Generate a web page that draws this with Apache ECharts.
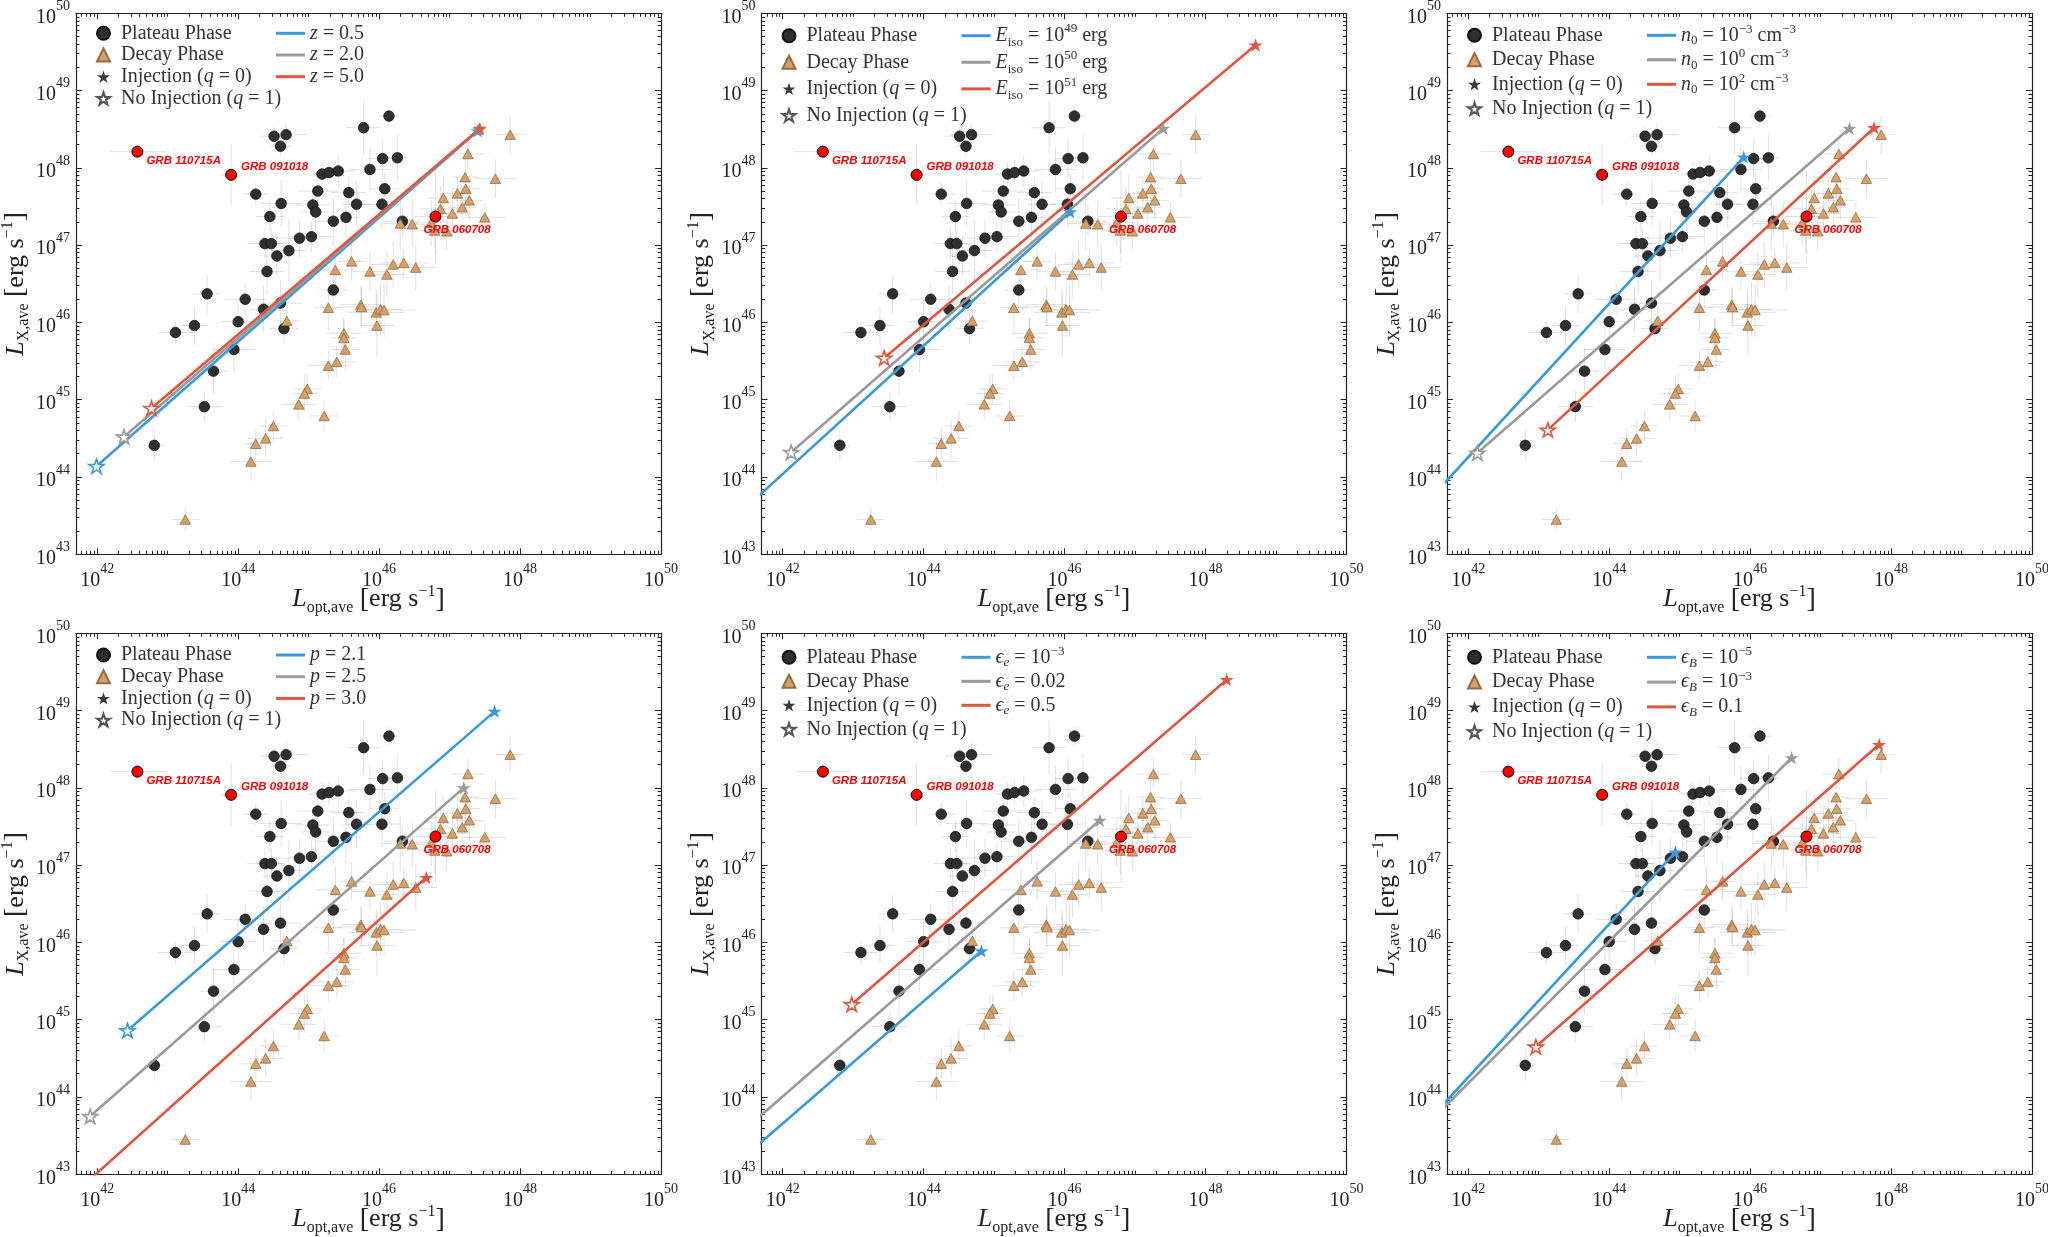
<!DOCTYPE html>
<html>
<head>
<meta charset="utf-8">
<title>L_X,ave vs L_opt,ave</title>
<script src="https://cdn.jsdelivr.net/npm/echarts@6/dist/echarts.min.js"></script>
<style>
  html, body { margin: 0; padding: 0; background: #fff; }
  #chart { width: 2048px; height: 1237px; }
</style>
</head>
<body>
<div id="chart"></div>
<script>
// every value below is log10 of a luminosity in erg/s (errors in dex)
const plateauLogLopt = [46.14, 45.78, 44.51, 44.68, 44.60, 46.05, 46.26, 45.87, 45.19, 45.29, 45.42, 44.25, 45.13, 45.57, 46.08,
  44.61, 45.06, 45.10, 45.68, 46.04, 44.45, 45.35, 45.53, 46.33, 44.38, 44.47, 44.87, 45.04, 44.55, 44.72, 44.41, 45.35,
  43.56, 44.10, 44.36, 44.60, 43.11, 43.38, 44.00, 44.65, 43.94, 43.65, 43.52, 42.81]
const plateauLogLx = [48.67, 48.52, 48.41, 48.43, 48.28, 48.12, 48.13, 47.98, 47.92, 47.94, 47.96, 47.66, 47.70, 47.68, 47.73,
  47.54, 47.52, 47.43, 47.53, 47.53, 47.37, 47.31, 47.36, 47.31, 47.02, 47.02, 47.09, 47.11, 46.86, 46.93, 46.66, 46.42,
  46.37, 46.30, 46.17, 46.25, 45.87, 45.96, 46.01, 45.92, 45.65, 45.37, 44.91, 44.41]
const plateauErrLopt = [0.15, 0.25, 0.2, 0.3, 0.15, 0.2, 0.15, 0.3, 0.2, 0.2, 0.25, 0.2, 0.3, 0.25, 0.2,
  0.3, 0.25, 0.2, 0.2, 0.25, 0.2, 0.25, 0.2, 0.25, 0.25, 0.2, 0.35, 0.3, 0.2, 0.25, 0.25, 0.2,
  0.2, 0.3, 0.2, 0.3, 0.25, 0.2, 0.25, 0.2, 0.3, 0.2, 0.25, 0.15]
const plateauErrLx = [0.12, 0.35, 0.12, 0.15, 0.12, 0.25, 0.3, 0.3, 0.15, 0.15, 0.2, 0.15, 0.25, 0.2, 0.2,
  0.3, 0.2, 0.25, 0.3, 0.3, 0.2, 0.3, 0.35, 0.2, 0.2, 0.2, 0.25, 0.2, 0.25, 0.4, 0.3, 0.25,
  0.25, 0.2, 0.3, 0.3, 0.15, 0.25, 0.3, 0.2, 0.3, 0.3, 0.2, 0.2]

const decayLogLopt = [47.86, 47.26, 47.22, 47.65, 47.23, 46.91, 47.11, 47.28, 46.87, 47.18, 47.04, 47.50, 46.30, 46.47, 46.74,
  46.79, 46.96, 45.61, 45.38, 45.87, 46.20, 46.35, 46.52, 46.11, 45.28, 45.74, 45.75, 45.96, 46.02, 46.07, 45.97, 44.69,
  45.50, 45.50, 45.52, 45.28, 45.40, 44.98, 44.94, 44.86, 45.22, 44.50, 44.39, 44.25, 44.18, 43.25]
const decayLogLx = [48.43, 48.18, 47.88, 47.86, 47.73, 47.61, 47.67, 47.58, 47.47, 47.49, 47.41, 47.36, 47.28, 47.27, 47.29,
  47.19, 47.18, 46.79, 46.68, 46.66, 46.75, 46.77, 46.71, 46.62, 46.19, 46.23, 46.20, 46.13, 46.17, 46.16, 45.96, 46.02,
  45.86, 45.80, 45.65, 45.44, 45.49, 45.14, 45.08, 44.94, 44.79, 44.66, 44.50, 44.43, 44.20, 43.45]
const decayErrLopt = [0.2, 0.25, 0.2, 0.3, 0.2, 0.25, 0.2, 0.2, 0.3, 0.2, 0.25, 0.3, 0.25, 0.2, 0.3,
  0.25, 0.35, 0.2, 0.3, 0.25, 0.3, 0.35, 0.3, 0.25, 0.2, 0.3, 0.35, 0.4, 0.3, 0.45, 0.25, 0.2,
  0.25, 0.2, 0.2, 0.3, 0.25, 0.2, 0.2, 0.25, 0.2, 0.2, 0.25, 0.2, 0.3, 0.2]
const decayErrLx = [0.25, 0.2, 0.3, 0.25, 0.2, 0.3, 0.2, 0.25, 0.3, 0.2, 0.3, 0.2, 0.35, 0.3, 0.3,
  0.3, 0.25, 0.25, 0.3, 0.25, 0.3, 0.2, 0.3, 0.3, 0.3, 0.25, 0.25, 0.3, 0.35, 0.35, 0.4, 0.2,
  0.2, 0.25, 0.25, 0.2, 0.2, 0.2, 0.25, 0.2, 0.2, 0.2, 0.25, 0.2, 0.25, 0.15]

const grbNames = ['GRB 110715A', 'GRB 091018', 'GRB 060708']
const grbLogLopt = [42.57, 43.90, 46.80]
const grbLogLx = [48.21, 47.91, 47.37]
const grbErrLopt = [0.4, 0.15, 0.3]
const grbErrLx = [0.1, 0.4, 0.6]

// model tracks per panel: blue, grey, red. q = 1 end (hollow star) and q = 0 end (filled star)
const trackNames = [
  ['z = 0.5', 'z = 2.0', 'z = 5.0'],
  ['E_iso = 10^49 erg', 'E_iso = 10^50 erg', 'E_iso = 10^51 erg'],
  ['n_0 = 10^-3 cm^-3', 'n_0 = 10^0 cm^-3', 'n_0 = 10^2 cm^-3'],
  ['p = 2.1', 'p = 2.5', 'p = 3.0'],
  ['eps_e = 10^-3', 'eps_e = 0.02', 'eps_e = 0.5'],
  ['eps_B = 10^-5', 'eps_B = 10^-3', 'eps_B = 0.1']
]
const trackLabels = [
  ['{i|z}{t| = 0.5}', '{i|z}{t| = 2.0}', '{i|z}{t| = 5.0}'],
  ['{i|E}{sub|iso}{t| = 10}{sup|49}{t| erg}', '{i|E}{sub|iso}{t| = 10}{sup|50}{t| erg}', '{i|E}{sub|iso}{t| = 10}{sup|51}{t| erg}'],
  ['{i|n}{sub|0}{t| = 10}{sup|−3}{t| cm}{sup|−3}', '{i|n}{sub|0}{t| = 10}{sup|0}{t| cm}{sup|−3}', '{i|n}{sub|0}{t| = 10}{sup|2}{t| cm}{sup|−3}'],
  ['{i|p}{t| = 2.1}', '{i|p}{t| = 2.5}', '{i|p}{t| = 3.0}'],
  ['{i|ϵ}{subi|e}{t| = 10}{sup|−3}', '{i|ϵ}{subi|e}{t| = 0.02}', '{i|ϵ}{subi|e}{t| = 0.5}'],
  ['{i|ϵ}{subi|B}{t| = 10}{sup|−5}', '{i|ϵ}{subi|B}{t| = 10}{sup|−3}', '{i|ϵ}{subi|B}{t| = 0.1}']
]
const noInjLogLopt = [[41.99, 42.38, 42.77], [41.40, 42.12, 43.44], [41.50, 42.13, 43.13],
  [42.43, 41.90, 41.60], [41.50, 41.50, 42.98], [41.50, 41.50, 42.96]]
const noInjLogLx = [[44.14, 44.52, 44.89], [43.54, 44.32, 45.54], [43.76, 44.31, 44.61],
  [44.86, 43.75, 42.69], [43.26, 43.61, 45.20], [43.76, 43.72, 44.65]]
const injLogLopt = [[47.40, 47.42, 47.43], [46.08, 47.40, 48.71], [45.91, 47.41, 47.76],
  [47.64, 47.20, 46.67], [44.82, 46.50, 48.30], [44.94, 46.59, 47.83]]
const injLogLx = [[48.48, 48.50, 48.51], [47.43, 48.51, 49.59], [48.14, 48.51, 48.52],
  [48.99, 48.00, 46.84], [45.89, 47.58, 49.40], [47.17, 48.39, 48.56]]

const xTickExp = [42, 44, 46, 48, 50]
const yTickExp = [43, 44, 45, 46, 47, 48, 49, 50]

const FONT = 'Liberation Serif'
const STAR = 'path://M50,0L61.2,34.5L97.6,34.5L68.2,55.9L79.4,90.5L50,69.1L20.6,90.5L31.8,55.9L2.4,34.5L38.8,34.5Z'
const TRACK_COLORS = ['#3a9ad9', '#9a9a9a', '#dd5840']
const X_MIN = Math.log10(5e41)
const X_MAX = 50
const Y_MIN = 43
const Y_MAX = 50

const GRID_LEFT = [76, 761.5, 1447]
const GRID_TOP = [13.3, 633.3]
const GRID_W = 585
const GRID_H = 541
// legend rows: spacing and first-row centre offset from grid top
const LEGEND_ROW = [21.7, 26.6, 24.5, 21.7, 24, 24.8]
const LEGEND_FIRST = [20, 22.4, 22, 21.7, 24, 24]

function minorTicks (lo, hi, from, majors) {
  const out = []
  for (let n = Math.floor(lo); n < hi; n++) {
    for (let k = from; k <= 9; k++) {
      const v = n + Math.log10(k)
      if (k === 1 && majors.includes(n)) continue
      if (v > lo && v < hi) out.push(v)
    }
  }
  return out
}
const xMinor = minorTicks(X_MIN, X_MAX, 1, xTickExp)
const yMinor = minorTicks(Y_MIN, Y_MAX, 2, yTickExp)

const lineColor = { color: '#222', width: 1.2 }
const tickColor = { color: '#222', width: 1 }
const powRich = {
  b: { fontFamily: FONT, fontSize: 20, lineHeight: 28, verticalAlign: 'bottom', color: '#222' },
  s: { fontFamily: FONT, fontSize: 14, lineHeight: 12, verticalAlign: 'top', color: '#222' }
}
const powFmt = v => '{b|10}{s|' + Math.round(v) + '}'
const nameRich = {
  t: { fontFamily: FONT, fontSize: 26, lineHeight: 32, color: '#222' },
  it: { fontFamily: FONT, fontStyle: 'italic', fontSize: 26, lineHeight: 32, color: '#222' },
  sub: { fontFamily: FONT, fontSize: 16, lineHeight: 16, verticalAlign: 'bottom', color: '#222' },
  sup: { fontFamily: FONT, fontSize: 16, lineHeight: 16, verticalAlign: 'top', color: '#222' },
  br: { fontFamily: FONT, fontSize: 28, lineHeight: 32, color: '#222' }
}
const nameStyle = { fontFamily: FONT, fontSize: 26, lineHeight: 32, color: '#222', rich: nameRich }

function xAxesFor (g) {
  const base = { type: 'value', gridIndex: g, min: X_MIN, max: X_MAX, splitLine: { show: false }, nameMoveOverlap: false }
  return [
    Object.assign({}, base, {
      position: 'bottom',
      axisLine: { show: true, onZero: false, lineStyle: lineColor },
      axisTick: { inside: true, length: 6, customValues: xTickExp, lineStyle: tickColor },
      axisLabel: { customValues: xTickExp, formatter: powFmt, rich: powRich, margin: 8 },
      name: '{it|L}{sub|opt,ave}{t| }{br|[}{t|erg s}{sup|−1}{br|]}',
      nameLocation: 'middle',
      nameGap: 29,
      nameTextStyle: nameStyle
    }),
    Object.assign({}, base, {
      position: 'bottom',
      axisLine: { show: false, onZero: false },
      axisTick: { inside: true, length: 3.5, customValues: xMinor, lineStyle: tickColor },
      axisLabel: { show: false }
    }),
    Object.assign({}, base, {
      position: 'top',
      axisLine: { show: true, onZero: false, lineStyle: lineColor },
      axisTick: { inside: true, length: 6, customValues: xTickExp, lineStyle: tickColor },
      axisLabel: { show: false }
    }),
    Object.assign({}, base, {
      position: 'top',
      axisLine: { show: false, onZero: false },
      axisTick: { inside: true, length: 3.5, customValues: xMinor, lineStyle: tickColor },
      axisLabel: { show: false }
    })
  ]
}

function yAxesFor (g) {
  const base = { type: 'value', gridIndex: g, min: Y_MIN, max: Y_MAX, interval: 1, splitLine: { show: false }, nameMoveOverlap: false }
  return [
    Object.assign({}, base, {
      position: 'left',
      axisLine: { show: true, onZero: false, lineStyle: lineColor },
      axisTick: { inside: true, length: 6, customValues: yTickExp, lineStyle: tickColor },
      axisLabel: { customValues: yTickExp, formatter: powFmt, rich: powRich, margin: 6 },
      name: '{it|L}{sub|X,ave}{t| }{br|[}{t|erg s}{sup|−1}{br|]}',
      nameLocation: 'middle',
      nameGap: 44,
      nameTextStyle: nameStyle
    }),
    Object.assign({}, base, {
      position: 'left',
      axisLine: { show: false, onZero: false },
      axisTick: { inside: true, length: 3.5, customValues: yMinor, lineStyle: tickColor },
      axisLabel: { show: false }
    }),
    Object.assign({}, base, {
      position: 'right',
      axisLine: { show: true, onZero: false, lineStyle: lineColor },
      axisTick: { inside: true, length: 6, customValues: yTickExp, lineStyle: tickColor },
      axisLabel: { show: false }
    }),
    Object.assign({}, base, {
      position: 'right',
      axisLine: { show: false, onZero: false },
      axisTick: { inside: true, length: 3.5, customValues: yMinor, lineStyle: tickColor },
      axisLabel: { show: false }
    })
  ]
}

const errData = []
plateauLogLopt.forEach((x, i) => errData.push([x, plateauLogLx[i], plateauErrLopt[i], plateauErrLx[i]]))
decayLogLopt.forEach((x, i) => errData.push([x, decayLogLx[i], decayErrLopt[i], decayErrLx[i]]))
grbLogLopt.forEach((x, i) => errData.push([x, grbLogLx[i], grbErrLopt[i], grbErrLx[i]]))

const grbLabelOffset = [[9, 9], [10, -8], [-12, 13]]

function seriesFor (g) {
  const ax = { xAxisIndex: 4 * g, yAxisIndex: 4 * g }
  const out = []
  out.push(Object.assign({
    type: 'custom',
    silent: true,
    clip: true,
    z: 1,
    data: errData,
    encode: { x: 0, y: 1 },
    renderItem: (params, api) => {
      const x = api.value(0)
      const y = api.value(1)
      const ex = api.value(2)
      const ey = api.value(3)
      const l = api.coord([x - ex, y])
      const r = api.coord([x + ex, y])
      const b = api.coord([x, y - ey])
      const t = api.coord([x, y + ey])
      const st = { stroke: 'rgba(0,0,0,0.12)', lineWidth: 1 }
      return {
        type: 'group',
        children: [
          { type: 'line', shape: { x1: l[0], y1: l[1], x2: r[0], y2: r[1] }, style: st },
          { type: 'line', shape: { x1: b[0], y1: b[1], x2: t[0], y2: t[1] }, style: st }
        ]
      }
    }
  }, ax))
  out.push(Object.assign({
    name: 'Plateau Phase',
    type: 'scatter',
    z: 2,
    symbol: 'circle',
    symbolSize: 10.5,
    itemStyle: { color: '#2f2f2f', borderColor: '#111111', borderWidth: 0.8, opacity: 1 },
    data: plateauLogLopt.map((x, i) => [x, plateauLogLx[i]])
  }, ax))
  out.push(Object.assign({
    name: 'Decay Phase',
    type: 'scatter',
    z: 2,
    symbol: 'triangle',
    symbolSize: [10.5, 9.5],
    itemStyle: { color: '#d4a06e', borderColor: '#9a6a3a', borderWidth: 0.8, opacity: 1 },
    data: decayLogLopt.map((x, i) => [x, decayLogLx[i]])
  }, ax))
  out.push(Object.assign({
    name: 'highlighted GRBs',
    type: 'scatter',
    z: 3,
    symbol: 'circle',
    symbolSize: 11,
    itemStyle: { color: '#ff0000', borderColor: '#000000', borderWidth: 1, opacity: 1 },
    data: grbLogLopt.map((x, i) => ({
      value: [x, grbLogLx[i]],
      label: {
        show: true,
        formatter: grbNames[i],
        position: 'inside',
        align: 'left',
        verticalAlign: 'middle',
        offset: grbLabelOffset[i],
        color: '#ff0000',
        fontFamily: 'Liberation Sans',
        fontWeight: 'bold',
        fontStyle: 'italic',
        fontSize: 11.5
      }
    }))
  }, ax))
  for (let k = 0; k < 3; k++) {
    out.push(Object.assign({
      name: trackNames[g][k],
      type: 'line',
      z: 4,
      symbol: 'none',
      clip: true,
      lineStyle: { color: TRACK_COLORS[k], width: 2.6 },
      itemStyle: { color: TRACK_COLORS[k] },
      data: [[noInjLogLopt[g][k], noInjLogLx[g][k]], [injLogLopt[g][k], injLogLx[g][k]]]
    }, ax))
  }
  out.push(Object.assign({
    name: 'No Injection (q = 1)',
    type: 'scatter',
    z: 5,
    clip: true,
    symbol: STAR,
    symbolKeepAspect: true,
    symbolSize: 15,
    itemStyle: { color: '#ffffff', borderColor: '#555555', borderWidth: 1.6, opacity: 1 },
    data: [0, 1, 2].map(k => ({
      value: [noInjLogLopt[g][k], noInjLogLx[g][k]],
      itemStyle: { borderColor: TRACK_COLORS[k] }
    }))
  }, ax))
  out.push(Object.assign({
    name: 'Injection (q = 0)',
    type: 'scatter',
    z: 5,
    clip: true,
    symbol: STAR,
    symbolKeepAspect: true,
    symbolSize: 14,
    itemStyle: { color: '#3a3a3a', opacity: 1 },
    data: [0, 1, 2].map(k => ({
      value: [injLogLopt[g][k], injLogLx[g][k]],
      itemStyle: { color: TRACK_COLORS[k] }
    }))
  }, ax))
  return out
}

const col1Labels = {
  'Plateau Phase': '{sp| }{t|Plateau Phase}',
  'Decay Phase': '{sp| }{t|Decay Phase}',
  'Injection (q = 0)': '{sp| }{t|Injection (}{i|q}{t| = 0)}',
  'No Injection (q = 1)': '{sp| }{t|No Injection (}{i|q}{t| = 1)}'
}

function legendsFor (g) {
  const left = GRID_LEFT[g % 3]
  const top = GRID_TOP[Math.floor(g / 3)] + LEGEND_FIRST[g] - LEGEND_ROW[g] / 2
  const rich = {
    sp: { width: 6, fontFamily: FONT, fontSize: 20, lineHeight: LEGEND_ROW[g] },
    t: { fontFamily: FONT, fontSize: 20, lineHeight: LEGEND_ROW[g], color: '#333' },
    i: { fontFamily: FONT, fontStyle: 'italic', fontSize: 20, lineHeight: LEGEND_ROW[g], color: '#333' },
    sub: { fontFamily: FONT, fontSize: 13, lineHeight: 13, verticalAlign: 'bottom', color: '#333' },
    subi: { fontFamily: FONT, fontStyle: 'italic', fontSize: 13, lineHeight: 13, verticalAlign: 'bottom', color: '#333' },
    sup: { fontFamily: FONT, fontSize: 13, lineHeight: 13, verticalAlign: 'top', color: '#333' }
  }
  const textStyle = { fontFamily: FONT, fontSize: 20, lineHeight: LEGEND_ROW[g], color: '#333', rich }
  const labels = {}
  trackNames[g].forEach((n, k) => { labels[n] = trackLabels[g][k] })
  return [
    {
      left: left + 20,
      top,
      orient: 'vertical',
      padding: 0,
      itemGap: 0,
      itemWidth: 13,
      itemHeight: 13,
      selectedMode: false,
      textStyle,
      formatter: n => col1Labels[n],
      data: ['Plateau Phase', 'Decay Phase', 'Injection (q = 0)', 'No Injection (q = 1)']
    },
    {
      left: left + 200,
      top,
      orient: 'vertical',
      padding: 0,
      itemGap: 0,
      itemWidth: 29,
      itemHeight: 3,
      icon: 'rect',
      selectedMode: false,
      textStyle,
      formatter: n => labels[n],
      data: trackNames[g]
    }
  ]
}

const grids = []
let xAxes = []
let yAxes = []
let series = []
let legends = []
for (let g = 0; g < 6; g++) {
  grids.push({
    left: GRID_LEFT[g % 3],
    top: GRID_TOP[Math.floor(g / 3)],
    width: GRID_W,
    height: GRID_H,
    containLabel: false,
    outerBoundsMode: 'none'
  })
  xAxes = xAxes.concat(xAxesFor(g))
  yAxes = yAxes.concat(yAxesFor(g))
  series = series.concat(seriesFor(g))
  legends = legends.concat(legendsFor(g))
}

const chart = echarts.init(document.getElementById('chart'), null, { renderer: 'canvas' })
chart.setOption({
  animation: false,
  backgroundColor: '#ffffff',
  textStyle: { fontFamily: FONT },
  grid: grids,
  xAxis: xAxes,
  yAxis: yAxes,
  legend: legends,
  series
})
</script>
</body>
</html>
